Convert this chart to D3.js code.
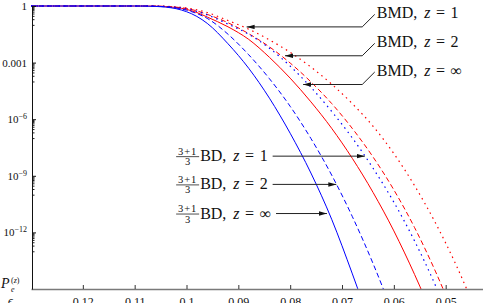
<!DOCTYPE html>
<html>
<head>
<meta charset="utf-8">
<script src="https://cdn.jsdelivr.net/npm/d3@7"></script>
<style>
  body { margin: 0; background: #fff; }
  text { font-family: "Liberation Serif", "Times New Roman", serif; fill: #111; }
</style>
</head>
<body>
<div id="chart"></div>
<script>
// epsilon grid (x values, shared by every curve)
var eps = [0.130, 0.110, 0.108, 0.106, 0.104, 0.102, 0.100, 0.098, 0.096, 0.092, 0.088,
           0.084, 0.080, 0.076, 0.072, 0.068, 0.064, 0.060, 0.056, 0.052, 0.048, 0.044];

// P_e^(z), null where the curve has left the plot
var bdInf  = [1, 1, 0.99, 0.95, 0.87, 0.72, 0.50, 0.28, 0.12, 1.0e-2, 5.0e-4, 1.3e-5, 1.8e-7, 1.4e-9, 5.0e-12, 6.3e-15, 5.0e-18, null, null, null, null, null];
var bd2    = [1, 1, 1, 0.97, 0.91, 0.79, 0.60, 0.40, 0.22, 3.2e-2, 2.6e-3, 1.4e-4, 4.8e-6, 9.5e-8, 1.1e-9, 6.8e-12, 2.2e-14, 3.7e-17, null, null, null, null];
var bd1    = [1, 1, 1, 0.99, 0.94, 0.85, 0.71, 0.52, 0.34, 0.11, 3.2e-2, 5.8e-3, 6.5e-4, 4.9e-5, 2.6e-6, 1.0e-7, 2.5e-9, 4.0e-11, 3.5e-13, 1.6e-15, 3.5e-18, null];
var bmdInf = [1, 1, 1, 0.98, 0.93, 0.83, 0.66, 0.45, 0.26, 7.9e-2, 1.7e-2, 1.9e-3, 1.5e-4, 8.3e-6, 3.3e-7, 8.3e-9, 1.3e-10, 1.2e-12, 5.9e-15, 1.7e-17, null, null];
var bmd2   = [1, 1, 1, 0.99, 0.95, 0.87, 0.74, 0.55, 0.36, 0.13, 3.4e-2, 6.8e-3, 9.5e-4, 9.5e-5, 6.8e-6, 3.2e-7, 9.8e-9, 1.8e-10, 1.8e-12, 8.9e-15, 2.2e-17, null];
var bmd1   = [1, 1, 1, 1, 0.97, 0.89, 0.79, 0.63, 0.45, 0.17, 5.9e-2, 1.6e-2, 3.5e-3, 5.8e-4, 7.2e-5, 6.6e-6, 4.2e-7, 1.5e-8, 3.0e-10, 3.3e-12, 1.9e-14, 5.2e-17];

// ticks
var xTicks = [0.12, 0.11, 0.1, 0.09, 0.08, 0.07, 0.06, 0.05];
var yTicks = [1, 1e-3, 1e-6, 1e-9, 1e-12];

// annotations: z labels, arrow tips (eps, P) and label heights
var zLabels   = ["1", "2", "\u221e"];
var bmdTipEps = [0.0884, 0.0810, 0.0775];
var bmdTipP   = [0.078, 2.3e-3, 6.9e-5];
var bmdLabelP = [0.43, 0.0126, 3.8e-4];
var bdTipEps  = [0.0656, 0.0711, 0.0729];
var bdTipP    = [1.1e-8, 3.5e-10, 1.0e-11];

var margin = {top: 6, right: 0, bottom: 14, left: 31},
    width = 483,
    height = 303;

var svg = d3.select("#chart").append("svg")
  .attr("width", width)
  .attr("height", height);

var x = d3.scaleLinear()
  .domain([0.13, 0.0428])
  .range([margin.left, width - margin.right]);

var y = d3.scaleLog()
  .domain([1e-15, 1])
  .range([height - margin.bottom, margin.top]);

svg.append("defs").append("clipPath").attr("id", "plot")
  .append("rect")
  .attr("x", margin.left).attr("y", 0)
  .attr("width", width - margin.left).attr("height", height - margin.bottom);

svg.select("defs").append("marker")
  .attr("id", "head")
  .attr("markerUnits", "userSpaceOnUse")
  .attr("markerWidth", 9).attr("markerHeight", 6)
  .attr("refX", 8).attr("refY", 2.25)
  .attr("orient", "auto")
  .append("path")
  .attr("d", "M0,0L8,2.25L0,4.5Z")
  .attr("fill", "#111");

// the six curves (red first so blue sits on top along P = 1)
var series = [
  {values: bmd1,   color: "#ff0000", dash: "1.5,4", w: 1.2},
  {values: bmd2,   color: "#ff0000", dash: "5,3",   w: 1},
  {values: bmdInf, color: "#ff0000", dash: null,    w: 1},
  {values: bd1,    color: "#0000ff", dash: "1.5,4", w: 1.2},
  {values: bd2,    color: "#0000ff", dash: "5,3",   w: 1},
  {values: bdInf,  color: "#0000ff", dash: null,    w: 1}
];

var line = d3.line()
  .defined(function(d) { return d[1] != null; })
  .x(function(d) { return x(d[0]); })
  .y(function(d) { return y(d[1]); })
  .curve(d3.curveMonotoneX);

svg.append("g").attr("clip-path", "url(#plot)")
  .selectAll("path")
  .data(series)
  .enter().append("path")
  .attr("d", function(s) { return line(eps.map(function(e, i) { return [e, s.values[i]]; })); })
  .attr("fill", "none")
  .attr("stroke", function(s) { return s.color; })
  .attr("stroke-width", function(s) { return s.w; })
  .attr("stroke-dasharray", function(s) { return s.dash; });

// x axis
var xAxis = svg.append("g")
  .attr("transform", "translate(0," + y(1e-15) + ")")
  .call(d3.axisBottom(x).tickValues(xTicks).tickSize(-4).tickSizeOuter(0).tickPadding(8)
    .tickFormat(function(d) { return String(+d.toFixed(2)); }));
xAxis.select(".domain").attr("stroke", "#7a7a7a").attr("stroke-width", 1.4);
xAxis.selectAll(".tick line").attr("stroke", "#333");
xAxis.selectAll(".tick text").attr("font-size", 12).attr("font-family", "Liberation Serif").attr("fill", "#222");

// y axis, minor ticks in the decade under each labelled tick
var minor = [];
yTicks.forEach(function(t) { for (var k = 1; k < 10; k++) minor.push(t * k / 10); });
svg.append("g")
  .attr("transform", "translate(" + (margin.left + 1) + ",0)")
  .call(d3.axisLeft(y).tickValues(minor).tickSize(-2.5).tickSizeOuter(0).tickFormat(""))
  .call(function(g) { g.select(".domain").remove(); g.selectAll(".tick line").attr("stroke", "#222"); });

var yAxis = svg.append("g")
  .attr("transform", "translate(" + (margin.left + 1) + ",0)")
  .call(d3.axisLeft(y).tickValues(yTicks).tickSize(-4).tickSizeOuter(0).tickPadding(5)
    .tickFormat(function(d) { return d >= 1e-3 ? (d == 1 ? "1" : "0.001") : "10"; }));
yAxis.select(".domain").attr("stroke", "#111");
yAxis.selectAll(".tick line").attr("stroke", "#111");
yAxis.selectAll(".tick text")
  .attr("font-size", 11).attr("font-family", "Liberation Serif").attr("fill", "#222")
  .each(function(d) {
    var e = Math.round(Math.log10(d));
    if (e < -3) {
      d3.select(this).append("tspan")
        .attr("dy", "-0.5em").attr("font-size", 8)
        .text("\u2212" + (-e));
    }
  });

// axis titles
var pe = svg.append("g");
pe.append("text").attr("x", 1).attr("y", 288).attr("font-size", 14).attr("font-style", "italic").text("P");
pe.append("text").attr("x", 11).attr("y", 292).attr("font-size", 8).attr("font-style", "italic").text("e");
pe.append("text").attr("x", 11).attr("y", 282.5).attr("font-size", 8).html("(<tspan font-style='italic'>z</tspan>)");
svg.append("text").attr("x", 8).attr("y", 305).attr("font-size", 12).attr("font-style", "italic").text("\u03f5");

// helper: "NAME, z = v" label
function zText(sel, name, v) {
  sel.append("tspan").text(name + ",");
  sel.append("tspan").attr("dx", 7).attr("font-style", "italic").text("z");
  sel.append("tspan").attr("dx", 5.5).text("=");
  sel.append("tspan").attr("dx", 5.5).text(v);
}

// BMD annotations (right)
var elbowX = x(0.0661), labelX = x(0.0633);
zLabels.forEach(function(z, i) {
  var ty = y(bmdTipP[i]), ly = y(bmdLabelP[i]);
  svg.append("path")
    .attr("d", "M" + (labelX - 2) + "," + (ly + 1.5) + "L" + elbowX + "," + ty + "H" + x(bmdTipEps[i]))
    .attr("fill", "none").attr("stroke", "#222").attr("stroke-width", 1)
    .attr("marker-end", "url(#head)");
  var t = svg.append("text").attr("x", labelX).attr("y", ly + 5.5).attr("font-size", 16);
  zText(t, "BMD", z);
});

// (3+1)/3 BD annotations (left)
var bdX = x(0.1020);
zLabels.forEach(function(z, i) {
  var ty = y(bdTipP[i]);
  var g = svg.append("g");
  g.append("text").attr("x", bdX + 11.5).attr("y", ty - 1.5).attr("font-size", 10.5)
    .attr("text-anchor", "middle").attr("letter-spacing", 1).text("3+1");
  g.append("line").attr("x1", bdX).attr("x2", bdX + 23).attr("y1", ty + 0.5).attr("y2", ty + 0.5)
    .attr("stroke", "#222").attr("stroke-width", 0.8);
  g.append("text").attr("x", bdX + 11.5).attr("y", ty + 9).attr("font-size", 10.5)
    .attr("text-anchor", "middle").text("3");
  var t = g.append("text").attr("x", bdX + 24).attr("y", ty + 5).attr("font-size", 16);
  zText(t, "BD", z);
  var bb = t.node().getBBox();
  g.append("line")
    .attr("x1", bb.x + bb.width + 5).attr("x2", x(bdTipEps[i]))
    .attr("y1", ty).attr("y2", ty)
    .attr("stroke", "#222").attr("stroke-width", 1)
    .attr("marker-end", "url(#head)");
});
</script>
</body>
</html>
